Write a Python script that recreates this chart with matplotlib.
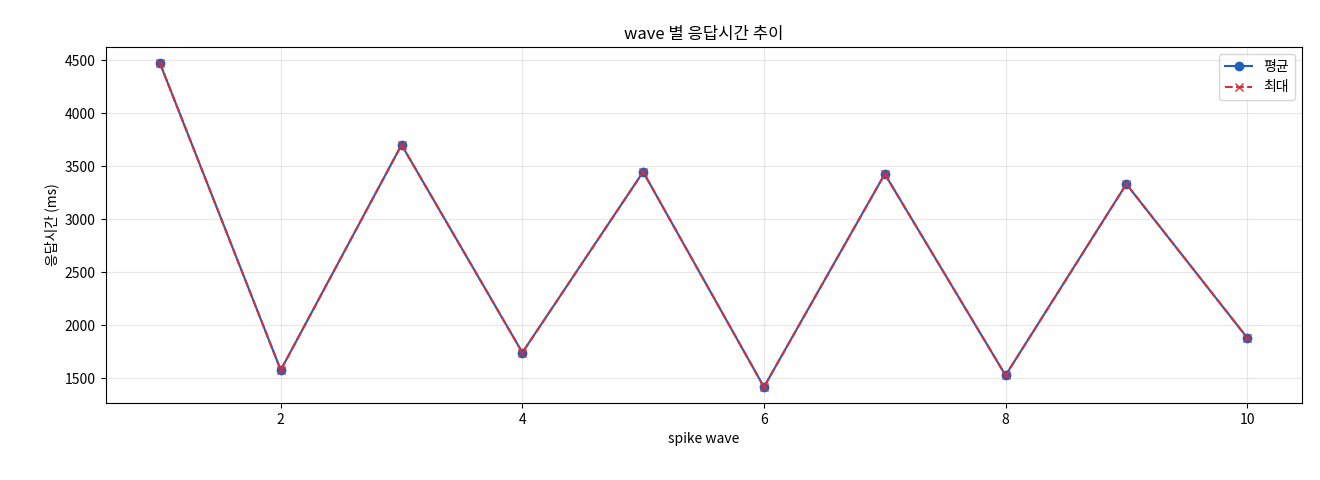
import matplotlib
matplotlib.use("Agg")
import matplotlib.pyplot as plt

plt.rcParams['font.family'] = ['Noto Sans CJK KR', 'DejaVu Sans']

waves = [1, 2, 3, 4, 5, 6, 7, 8, 9, 10]
avg = [4470, 1575, 3700, 1740, 3445, 1415, 3425, 1525, 3330, 1880]
mx = [4470, 1575, 3700, 1740, 3445, 1415, 3425, 1525, 3330, 1880]

fig, ax = plt.subplots(figsize=(13.2, 4.8), dpi=100)
ax.plot(waves, avg, '-o', color='#1f5fbf', label='평균')
ax.plot(waves, mx, '--x', color='#d62f3a', label='최대')
ax.set_title('wave 별 응답시간 추이')
ax.set_xlabel('spike wave')
ax.set_ylabel('응답시간 (ms)')
ax.grid(True, alpha=0.3)
ax.legend(loc='upper right')
fig.subplots_adjust(left=0.08, right=0.986, top=0.902, bottom=0.16)
fig.savefig('out.png')
